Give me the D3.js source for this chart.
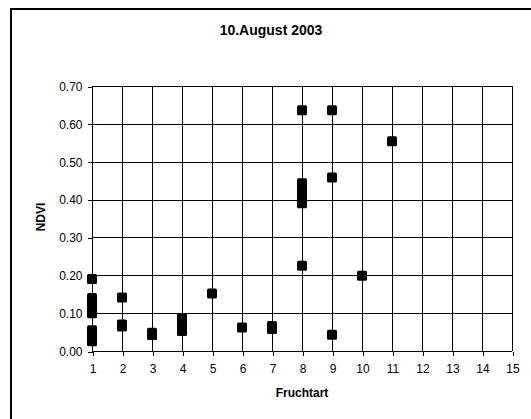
<!DOCTYPE html>
<html>
<head>
<meta charset="utf-8">
<script src="https://cdn.jsdelivr.net/npm/d3@7"></script>
<style>
  html, body { margin: 0; padding: 0; background: #fff; }
  svg { display: block; font-family: "Liberation Sans", Arial, sans-serif; }
</style>
</head>
<body>
<svg id="chart" width="531" height="419"></svg>
<script>
const title = "10.August 2003";
const xLabel = "Fruchtart";
const yLabel = "NDVI";
const xTicks = [1,2,3,4,5,6,7,8,9,10,11,12,13,14,15];
const yTicks = [0.0,0.1,0.2,0.3,0.4,0.5,0.6,0.7];
// Fruchtart (crop type) and NDVI values
const fruchtart = [1,1,1,1,1,1,1,1,1,1,1, 2,2,2, 3,3, 4,4,4,4, 5, 6, 7,7, 8,8,8,8,8,8,8,8, 9,9,9, 10, 11];
const ndvi      = [0.19,0.14,0.13,0.12,0.11,0.10,0.055,0.045,0.038,0.03,0.026,
                   0.141,0.07,0.065, 0.048,0.042, 0.087,0.075,0.063,0.053, 0.152, 0.062, 0.066,0.058,
                   0.636,0.443,0.43,0.42,0.41,0.40,0.39,0.225, 0.636,0.458,0.043, 0.199, 0.554];

const svg = d3.select("#chart");
const pLeft = 92, pRight = 512, pTop = 86, pBottom = 351;
const x = d3.scaleLinear().domain([1,15]).range([pLeft,pRight]);
const y = d3.scaleLinear().domain([0,0.7]).range([pBottom,pTop]);

// outer frame
svg.append("rect").attr("x",11).attr("y",9).attr("width",540).attr("height",430)
  .attr("fill","none").attr("stroke","#000").attr("stroke-width",2);

// grid
const grid = svg.append("g").attr("shape-rendering","crispEdges");
grid.selectAll(".vg").data(xTicks).join("line")
  .attr("x1",d=>Math.round(x(d))+0.5).attr("x2",d=>Math.round(x(d))+0.5)
  .attr("y1",pTop).attr("y2",pBottom).attr("stroke","#000");
grid.selectAll(".hg").data(yTicks).join("line")
  .attr("x1",pLeft).attr("x2",pRight)
  .attr("y1",d=>Math.round(y(d))+0.5).attr("y2",d=>Math.round(y(d))+0.5).attr("stroke","#000");

// axes
const xAxis = d3.axisBottom(x).tickValues(xTicks).tickSize(4).tickPadding(9).tickFormat(d3.format("d"));
const gx = svg.append("g").attr("transform",`translate(0.5,${pBottom+0.5})`).call(xAxis);
const yAxis = d3.axisLeft(y).tickValues(yTicks).tickSize(5).tickPadding(5).tickFormat(d3.format(".2f"));
const gy = svg.append("g").attr("transform",`translate(${pLeft+0.5},0.5)`).call(yAxis);
[gx,gy].forEach(g=>{
  g.attr("font-family","'Liberation Sans', Arial, sans-serif").attr("font-size",12);
  g.selectAll("path,line").attr("stroke","#000").attr("shape-rendering","crispEdges");
  g.selectAll("text").attr("fill","#000");
});
gx.select(".domain").remove();
gy.select(".domain").remove();

// points
svg.append("g").selectAll("rect").data(fruchtart.map((f,i)=>({f, v: ndvi[i]}))).join("rect")
  .attr("x",d=>x(d.f)-5).attr("y",d=>y(d.v)-5).attr("width",10).attr("height",10)
  .attr("rx",1.5).attr("fill","#000");

// title and labels
svg.append("text").attr("x",271).attr("y",35).attr("text-anchor","middle")
  .attr("font-size",14).attr("font-weight","bold").text(title);
svg.append("text").attr("x",302).attr("y",397).attr("text-anchor","middle")
  .attr("font-size",12).attr("font-weight","bold").text(xLabel);
svg.append("text").attr("transform",`translate(45,217) rotate(-90)`).attr("text-anchor","middle")
  .attr("font-size",12).attr("font-weight","bold").text(yLabel);
</script>
</body>
</html>
